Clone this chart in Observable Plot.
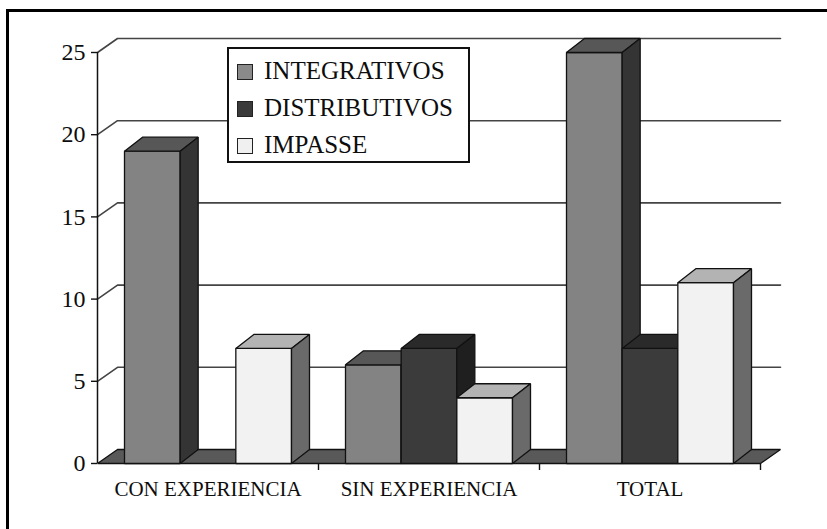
<!DOCTYPE html>
<html>
<head>
<meta charset="utf-8">
<script src="https://cdn.jsdelivr.net/npm/d3@7"></script>
<script src="https://cdn.jsdelivr.net/npm/@observablehq/plot@0.6"></script>
<style>
  html, body { margin: 0; padding: 0; background: #fff; overflow: hidden; }
  #wrap { position: relative; width: 827px; height: 529px; overflow: hidden; background: #fff; }
  #frame { position: absolute; left: 6px; top: 9px; width: 900px; height: 600px; border: 3px solid #000; box-sizing: border-box; pointer-events: none; }
  #legend { position: absolute; left: 227px; top: 47px; width: 243px; height: 116px; box-sizing: border-box;
            border: 2px solid #111; background: #fff; font-family: "Liberation Serif", "Times New Roman", serif; color: #0d0d0d; }
  .row { position: absolute; left: 0; height: 30px; width: 100%; }
  .sw { position: absolute; left: 8px; top: 7px; width: 14px; height: 14px; border: 1px solid #222; }
  .lab { position: absolute; left: 35px; top: -1px; font-size: 25px; line-height: 30px; white-space: nowrap; }
</style>
</head>
<body>
<div id="wrap">
  <div id="chart"></div>
  <div id="legend"></div>
  <div id="frame"></div>
</div>
<script>
// ---- data ----
const categories = ["CON EXPERIENCIA", "SIN EXPERIENCIA", "TOTAL"];
const seriesNames = ["INTEGRATIVOS", "DISTRIBUTIVOS", "IMPASSE"];
const integrativos = [19, 6, 25];
const distributivos = [0, 7, 7];
const impasse = [7, 4, 11];
const yTicks = [0, 5, 10, 15, 20, 25];

// ---- styles ----
const faceColors = [
  {front: "#838383", top: "#575757", side: "#343434", swatch: "#8a8a8a"},
  {front: "#3b3b3b", top: "#2a2a2a", side: "#1f1f1f", swatch: "#3a3a3a"},
  {front: "#f2f2f2", top: "#b3b3b3", side: "#6a6a6a", swatch: "#f0f0f0"}
];
const floorColor = "#595959";

const W = 827, H = 529;
const mL = 97, mR = 67, mT = 52, mB = 66;
const yMax = 25;
const nCat = categories.length;
const pxX = nCat / (W - mL - mR);            // data units per pixel (x)
const pxY = yMax / (H - mT - mB);            // data units per pixel (y)
const wallDX = 20 * pxX, wallDY = 14 * pxY;  // depth of walls
const barDX = 18 * pxX, barDY = 14 * pxY;    // depth of bars
const pad = 27 * pxX;
const bw = (1 - 2 * pad) / 3;

const values = [integrativos, distributivos, impasse];

// polygons in painter's order
const polys = [];
let pid = 0;
function addPoly(pts, fill) {
  const id = pid++;
  for (const [x, y] of pts) polys.push({id, fill, x, y});
}
// floor
addPoly([[0, 0], [nCat, 0], [nCat + wallDX, wallDY], [wallDX, wallDY]], floorColor);
// bars
for (let i = 0; i < nCat; i++) {
  for (let j = 0; j < seriesNames.length; j++) {
    const v = values[j][i];
    if (!(v > 0)) continue;
    const x0 = i + pad + j * bw, x1 = x0 + bw;
    const c = faceColors[j];
    addPoly([[x0, 0], [x1, 0], [x1, v], [x0, v]], c.front);
    addPoly([[x0, v], [x1, v], [x1 + barDX, v + barDY], [x0 + barDX, v + barDY]], c.top);
    addPoly([[x1, 0], [x1 + barDX, barDY], [x1 + barDX, v + barDY], [x1, v]], c.side);
  }
}

// gridlines on back wall (with diagonal to front axis)
const grid = [];
for (const v of yTicks) {
  if (v === 0) continue;
  grid.push({v, x: 0, y: v});
  grid.push({v, x: wallDX, y: v + wallDY});
  grid.push({v, x: nCat + wallDX, y: v + wallDY});
}

const chart = Plot.plot({
  width: W, height: H,
  marginLeft: mL, marginRight: mR, marginTop: mT, marginBottom: mB,
  x: {type: "linear", domain: [0, nCat], axis: null},
  y: {type: "linear", domain: [0, yMax], axis: null},
  style: {fontFamily: "Liberation Serif, Times New Roman, serif", color: "#111", background: "transparent", overflow: "visible"},
  marks: [
    Plot.line(grid, {x: "x", y: "y", z: "v", stroke: "#444", strokeWidth: 1.6}),
    Plot.ruleY(yTicks, {x1: -6 * pxX, x2: 0, stroke: "#111", strokeWidth: 1.4}),
    Plot.line(polys, {x: "x", y: "y", z: "id", fill: "fill", stroke: "#111", strokeWidth: 1.3,
                      strokeLinejoin: "miter", curve: "linear-closed"}),
    Plot.ruleX([0], {y1: 0, y2: yMax, stroke: "#111", strokeWidth: 1.5}),
    Plot.ruleX(d3.range(1, nCat + 1), {y1: 0, y2: -7 * pxY, stroke: "#111", strokeWidth: 1.4}),
    Plot.text(yTicks, {x: 0, y: d => d, dx: -12, textAnchor: "end", fontSize: 24, fill: "#0d0d0d", text: d => String(d)}),
    Plot.text(categories, {x: (d, i) => i + 0.5, y: 0, dy: 26, fontSize: 21, fill: "#0d0d0d", text: d => d})
  ]
});
document.getElementById("chart").appendChild(chart);

// legend
const lg = document.getElementById("legend");
const rowTops = [8, 45, 82];
seriesNames.forEach((name, j) => {
  const r = document.createElement("div");
  r.className = "row";
  r.style.top = rowTops[j] + "px";
  const s = document.createElement("div");
  s.className = "sw";
  s.style.background = faceColors[j].swatch;
  const t = document.createElement("div");
  t.className = "lab";
  t.textContent = name;
  r.appendChild(s); r.appendChild(t);
  lg.appendChild(r);
});
</script>
</body>
</html>
